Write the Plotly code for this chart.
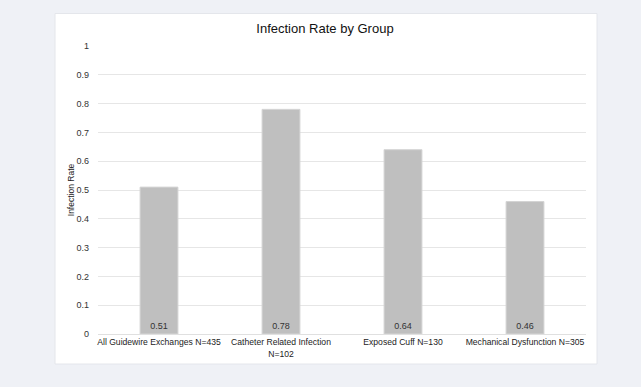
import plotly.graph_objects as go

categories = ["All Guidewire Exchanges N=435", "Catheter Related Infection<br>N=102",
              "Exposed Cuff N=130", "Mechanical Dysfunction N=305"]
rates = [0.51, 0.78, 0.64, 0.46]
labels = ["0.51", "0.78", "0.64", "0.46"]

W, H = 641, 387
L, R, T, B = 98, 55, 46, 53
pw, ph = W - L - R, H - T - B

def px_x(x):
    return (x - L) / pw

def px_y(y):
    return (H - B - y) / ph

fig = go.Figure()
fig.add_trace(go.Bar(
    x=categories, y=rates, text=labels,
    textposition="inside", insidetextanchor="start",
    textfont=dict(size=9, color="#333333"),
    marker=dict(color="#bfbfbf", line=dict(color="#d4d4d4", width=1)),
    width=0.31,
    hoverinfo="skip",
))

fig.add_shape(type="rect", xref="paper", yref="paper",
              x0=px_x(55), x1=px_x(597), y0=px_y(364), y1=px_y(13.5),
              fillcolor="white", line=dict(color="#e4e6eb", width=1), layer="below")

fig.update_layout(
    width=W, height=H,
    margin=dict(l=L, r=R, t=T, b=B, autoexpand=False),
    paper_bgcolor="#eff1f6",
    plot_bgcolor="rgba(0,0,0,0)",
    font=dict(family="Liberation Sans, Arial, sans-serif", color="#222222"),
    title=dict(text="Infection Rate by Group", xref="container", x=0.507, xanchor="center",
               yref="container", y=1 - 28 / H, yanchor="middle",
               font=dict(size=13, color="#111111")),
    showlegend=False,
)
fig.update_yaxes(range=[0, 1], dtick=0.1, showgrid=True, gridcolor="#e6e6e6", gridwidth=1,
                 zeroline=False, showline=False, ticks="",
                 tickfont=dict(size=9, color="#333333"), ticklabelstandoff=8,
                 title=dict(text="Infection Rate", font=dict(size=8.5, color="#222222"), standoff=0))
fig.update_xaxes(showgrid=False, showline=True, linecolor="#e0e0e0", linewidth=1, ticks="",
                 tickfont=dict(size=8.6, color="#222222"), tickangle=0)

fig.write_html("out.html", config={"displayModeBar": False},
               post_script="document.body.style.margin='0';document.body.style.background='#eff1f6';")
